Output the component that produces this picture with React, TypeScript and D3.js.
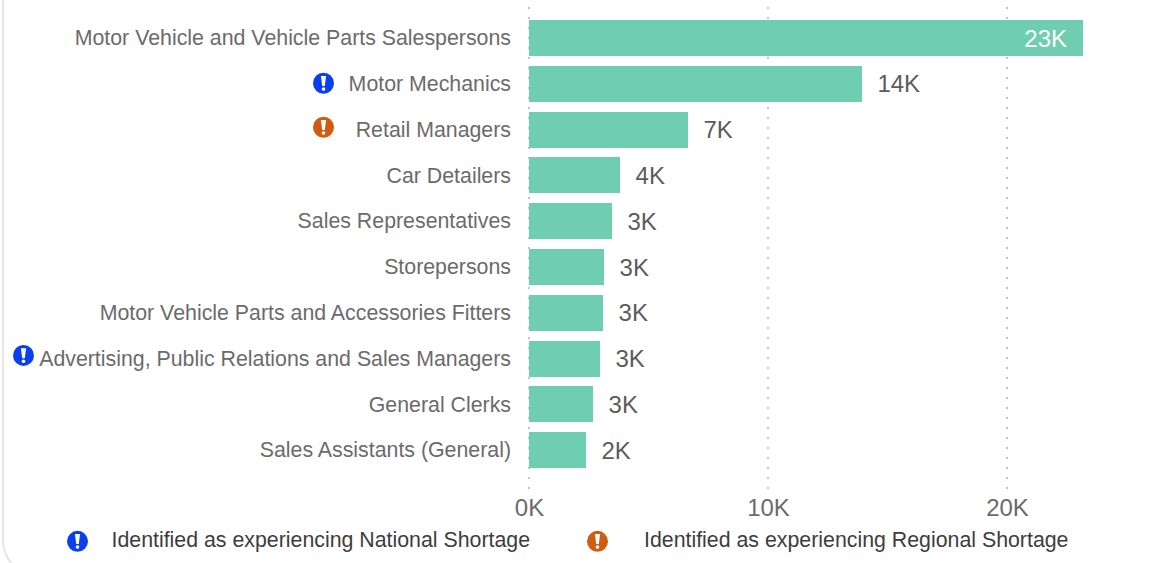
import React from "react";
import * as d3 from "d3";

const categories = [
  "Motor Vehicle and Vehicle Parts Salespersons",
  "Motor Mechanics",
  "Retail Managers",
  "Car Detailers",
  "Sales Representatives",
  "Storepersons",
  "Motor Vehicle Parts and Accessories Fitters",
  "Advertising, Public Relations and Sales Managers",
  "General Clerks",
  "Sales Assistants (General)",
];
const values = [23180, 13930, 6650, 3810, 3470, 3140, 3100, 2970, 2680, 2380];
const valueLabels = ["23K", "14K", "7K", "4K", "3K", "3K", "3K", "3K", "3K", "2K"];
const shortage = ["", "national", "regional", "", "", "", "", "national", "", ""];
const ticks = [0, 10000, 20000];
const legendItems = [
  { kind: "national", label: "Identified as experiencing National Shortage" },
  { kind: "regional", label: "Identified as experiencing Regional Shortage" },
];
const iconColors: Record<string, string> = { national: "#0a3fee", regional: "#d05c14" };

const FONT = "'Liberation Sans', Arial, sans-serif";

function Icon({ cx, cy, color, r = 10.5 }: { cx: number; cy: number; color: string; r?: number }) {
  return (
    <g>
      <circle cx={cx} cy={cy} r={r} fill={color} />
      <path
        d={`M${cx - 2.6} ${cy - 7.3} L${cx + 2.6} ${cy - 7.3} L${cx + 1.3} ${cy + 2.8} L${cx - 1.3} ${cy + 2.8} Z`}
        fill="#fff"
      />
      <circle cx={cx} cy={cy + 5.8} r={1.8} fill="#fff" />
    </g>
  );
}

export default function App() {
  const x = d3.scaleLinear().domain([0, 20000]).range([529, 1007]);
  const y = d3.scaleBand<string>().domain(categories).range([20, 468]).paddingInner(0.2136).paddingOuter(0);
  const iconX: Record<string, number> = { "Motor Mechanics": 323.5, "Retail Managers": 323.5 };
  const iconShift: Record<string, number> = { "Motor Mechanics": -0.5, "Retail Managers": -2.3 };

  return (
    <svg
      width={1167}
      height={563}
      style={{ position: "absolute", left: 0, top: 0, display: "block", background: "#fff" }}
      fontFamily={FONT}
    >
      <path d="M3 0 V538 Q3 556 14 566" fill="none" stroke="#e6e6e6" strokeWidth={2} />
      {ticks.map((t) => (
        <line
          key={t}
          x1={x(t)}
          x2={x(t)}
          y1={7}
          y2={491}
          stroke="#c4c4c4"
          strokeWidth={2}
          strokeDasharray="2 8"
        />
      ))}
      {categories.map((c, i) => {
        const by = y(c)!;
        const h = y.bandwidth();
        const cy = by + h / 2;
        const inside = i === 0;
        return (
          <g key={c}>
            <rect
              x={x(0)}
              y={Math.round(by + 0.1)}
              width={Math.round(x(values[i]) - x(0))}
              height={Math.round(h)}
              fill="#6fceb0"
            />
            <text x={511} y={cy + 7.3} textAnchor="end" fontSize={21.33} fill="#6b6b6b">
              {c}
            </text>
            <text
              x={inside ? x(values[i]) - 16 : x(values[i]) + 15.5}
              y={cy + 8.7}
              textAnchor={inside ? "end" : "start"}
              fontSize={24}
              fill={inside ? "#ffffff" : "#5c5c5c"}
            >
              {valueLabels[i]}
            </text>
            {shortage[i] && (
              <Icon
                cx={iconX[c] ?? 23.5}
                cy={cy + (iconShift[c] ?? -3)}
                color={iconColors[shortage[i]]}
              />
            )}
          </g>
        );
      })}
      {ticks.map((t) => (
        <text key={t} x={x(t) + 0.5} y={516} textAnchor="middle" fontSize={24} fill="#6b6b6b">
          {`${t / 1000}K`}
        </text>
      ))}
      <g>
        <Icon cx={77.5} cy={541.3} color={iconColors[legendItems[0].kind]} />
        <text x={111.5} y={547} fontSize={21.33} fill="#3d3d3d">{legendItems[0].label}</text>
        <Icon cx={597.5} cy={541.3} color={iconColors[legendItems[1].kind]} />
        <text x={644} y={547} fontSize={21.33} fill="#3d3d3d">{legendItems[1].label}</text>
      </g>
    </svg>
  );
}
